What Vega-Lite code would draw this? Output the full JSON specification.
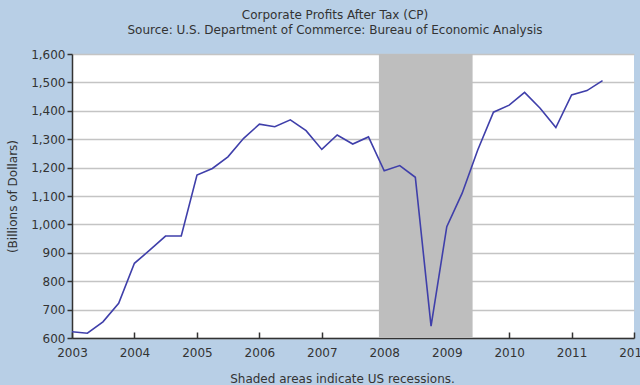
{
  "$schema": "https://vega.github.io/schema/vega-lite/v6.json",
  "width": 562,
  "height": 284,
  "autosize": {"type": "none"},
  "padding": {"left": 72, "top": 54, "right": 6, "bottom": 47},
  "background": "#b8cfe6",
  "view": {"fill": "white", "stroke": null},
  "config": {"font": "DejaVu Sans"},
  "title": {
    "text": ["Corporate Profits After Tax (CP)", "Source: U.S. Department of Commerce: Bureau of Economic Analysis"],
    "font": "DejaVu Sans",
    "fontSize": 12,
    "fontWeight": "normal",
    "color": "#333333",
    "anchor": "middle",
    "frame": "group",
    "dx": -18,
    "offset": 11,
    "lineHeight": 15
  },
  "datasets": {
    "recessions": [{"date": "2007-12-01", "date_end": "2009-06-01"}],
    "profits": [
      {"date": "2003-01-01", "value": 622},
      {"date": "2003-04-01", "value": 617},
      {"date": "2003-07-01", "value": 657},
      {"date": "2003-10-01", "value": 722},
      {"date": "2004-01-01", "value": 863},
      {"date": "2004-04-01", "value": 910},
      {"date": "2004-07-01", "value": 959},
      {"date": "2004-10-01", "value": 959},
      {"date": "2005-01-01", "value": 1174},
      {"date": "2005-04-01", "value": 1197},
      {"date": "2005-07-01", "value": 1238},
      {"date": "2005-10-01", "value": 1303},
      {"date": "2006-01-01", "value": 1353},
      {"date": "2006-04-01", "value": 1344},
      {"date": "2006-07-01", "value": 1368},
      {"date": "2006-10-01", "value": 1330},
      {"date": "2007-01-01", "value": 1264},
      {"date": "2007-04-01", "value": 1315},
      {"date": "2007-07-01", "value": 1283},
      {"date": "2007-10-01", "value": 1308},
      {"date": "2008-01-01", "value": 1189},
      {"date": "2008-04-01", "value": 1207},
      {"date": "2008-07-01", "value": 1166},
      {"date": "2008-10-01", "value": 642},
      {"date": "2009-01-01", "value": 992},
      {"date": "2009-04-01", "value": 1110},
      {"date": "2009-07-01", "value": 1262},
      {"date": "2009-10-01", "value": 1395},
      {"date": "2010-01-01", "value": 1420},
      {"date": "2010-04-01", "value": 1465},
      {"date": "2010-07-01", "value": 1409},
      {"date": "2010-10-01", "value": 1341},
      {"date": "2011-01-01", "value": 1456},
      {"date": "2011-04-01", "value": 1471},
      {"date": "2011-07-01", "value": 1506}
    ]
  },
  "encoding": {
    "x": {
      "field": "date",
      "type": "temporal",
      "scale": {
        "type": "utc",
        "domain": [{"year": 2003, "month": 1, "date": 1, "utc": true}, {"year": 2012, "month": 1, "date": 1, "utc": true}]
      },
      "axis": {
        "values": [
          {"year": 2003, "utc": true}, {"year": 2004, "utc": true}, {"year": 2005, "utc": true},
          {"year": 2006, "utc": true}, {"year": 2007, "utc": true}, {"year": 2008, "utc": true},
          {"year": 2009, "utc": true}, {"year": 2010, "utc": true}, {"year": 2011, "utc": true},
          {"year": 2012, "utc": true}
        ],
        "format": "%Y",
        "formatType": "utc",
        "grid": false,
        "domainColor": "#333333",
        "domainWidth": 1.5,
        "tickColor": "#333333",
        "tickWidth": 1.5,
        "tickSize": -6,
        "labelFont": "DejaVu Sans",
        "labelFontSize": 12,
        "labelColor": "#333333",
        "labelPadding": 15,
        "labelFlush": false,
        "labelOverlap": false,
        "title": "Shaded areas indicate US recessions.",
        "titleFont": "DejaVu Sans",
        "titleFontSize": 12,
        "titleFontWeight": "normal",
        "titleColor": "#333333",
        "titleX": 270,
        "titleY": 40,
        "titleBaseline": "middle",
        "titleAnchor": null
      }
    }
  },
  "layer": [
    {
      "data": {"name": "recessions"},
      "mark": {"type": "rect", "color": "#bebebe", "opacity": 1},
      "encoding": {"x2": {"field": "date_end"}}
    },
    {
      "data": {"name": "profits"},
      "mark": {"type": "line", "color": "#3f3faa", "strokeWidth": 1.6},
      "encoding": {
        "y": {
          "field": "value",
          "type": "quantitative",
          "scale": {"domain": [600, 1600], "nice": false, "zero": false},
          "axis": {
            "values": [600, 700, 800, 900, 1000, 1100, 1200, 1300, 1400, 1500, 1600],
            "format": ",.0f",
            "grid": true,
            "gridColor": "#c4c4c4",
            "gridWidth": 1.5,
            "domainColor": "#333333",
            "domainWidth": 1.5,
            "tickColor": "#333333",
            "tickWidth": 1.5,
            "tickSize": 5,
            "labelFont": "DejaVu Sans",
            "labelFontSize": 12,
            "labelColor": "#333333",
            "labelPadding": 2,
            "title": "(Billions of Dollars)",
            "titleFont": "DejaVu Sans",
            "titleFontSize": 12,
            "titleFontWeight": "normal",
            "titleColor": "#333333",
            "titleX": -60,
            "titleY": 142,
            "titleBaseline": "middle",
            "titleAngle": 270
          }
        }
      }
    }
  ]
}
